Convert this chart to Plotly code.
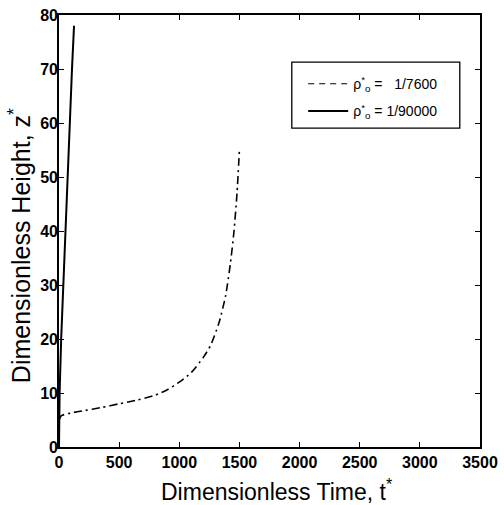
import plotly.graph_objects as go

# Data
t_dashdot = [0, 20, 100, 200, 350, 500, 650, 800, 900, 1000, 1100, 1200, 1260, 1330, 1385, 1425, 1455, 1480, 1500]
z_dashdot = [5.0, 5.8, 6.3, 6.7, 7.3, 8.0, 8.7, 9.6, 10.6, 12.0, 13.8, 16.6, 18.8, 23.0, 28.0, 34.0, 40.0, 47.0, 55.0]

t_solid = [0, 5, 18, 35, 52, 70, 88, 108, 125]
z_solid = [0, 10, 20, 30, 40, 50, 60, 70, 78]

x_ticks = [0, 500, 1000, 1500, 2000, 2500, 3000, 3500]
y_ticks = [0, 10, 20, 30, 40, 50, 60, 70, 80]

label_a = "ρ<sup>*</sup><sub>o</sub> =   1/7600"
label_b = "ρ<sup>*</sup><sub>o</sub> = 1/90000"
x_title = "Dimensionless Time, t<sup>*</sup>"
y_title = "Dimensionless Height, z<sup>*</sup>"

FONT = "Liberation Sans, Arial, sans-serif"

fig = go.Figure()
fig.add_trace(go.Scatter(x=t_dashdot, y=z_dashdot, mode="lines",
                         line=dict(color="black", width=1.6, dash="8px,4px,2px,4px", shape="spline", smoothing=0.6),
                         showlegend=False))
fig.add_trace(go.Scatter(x=[None], y=[None], mode="lines",
                         line=dict(color="black", width=1.2, dash="6px,5px"),
                         name=label_a, legendgroup="a"))
fig.add_trace(go.Scatter(x=t_solid, y=z_solid, mode="lines",
                         line=dict(color="black", width=2),
                         name=label_b, legendgroup="b"))

axis_common = dict(showgrid=False, zeroline=False, showline=True, linecolor="black",
                   linewidth=1.6, mirror="ticks", ticks="inside", ticklen=5,
                   tickcolor="black", tickwidth=1.2, automargin=False,
                   tickfont=dict(family=FONT, size=16, color="black", weight="bold"))

fig.update_xaxes(range=[0, 3500], tickvals=x_ticks, ticktext=[str(v) for v in x_ticks],
                 **axis_common)
fig.update_yaxes(range=[0, 80], tickvals=y_ticks, ticktext=[str(v) for v in y_ticks],
                 ticklabelstandoff=-4, **axis_common)

fig.update_layout(
    width=504, height=505,
    margin=dict(l=59, r=24, t=15, b=58),
    plot_bgcolor="white", paper_bgcolor="white",
    legend=dict(x=0.58, y=0.877, xanchor="left", yanchor="top",
                borderwidth=0, bgcolor="rgba(0,0,0,0)",
                font=dict(family=FONT, size=14, color="black"),
                traceorder="grouped", tracegroupgap=6, itemwidth=40),
    shapes=[dict(type="rect", xref="paper", yref="paper",
                 x0=0.553, x1=0.952, y0=0.738, y1=0.891,
                 line=dict(color="black", width=1.3))],
    annotations=[
        dict(text=x_title, xref="paper", yref="paper", x=0.518, y=-0.0995,
             xanchor="center", yanchor="middle", showarrow=False,
             font=dict(family=FONT, size=23, color="black")),
        dict(text=y_title, xref="paper", yref="paper", x=-0.0926, y=0.465,
             xanchor="center", yanchor="middle", showarrow=False, textangle=-90,
             font=dict(family=FONT, size=25, color="black")),
    ],
)

fig.write_html("out.html", config={"displayModeBar": False},
               post_script="document.body.style.margin='0';document.body.style.overflow='hidden';")
